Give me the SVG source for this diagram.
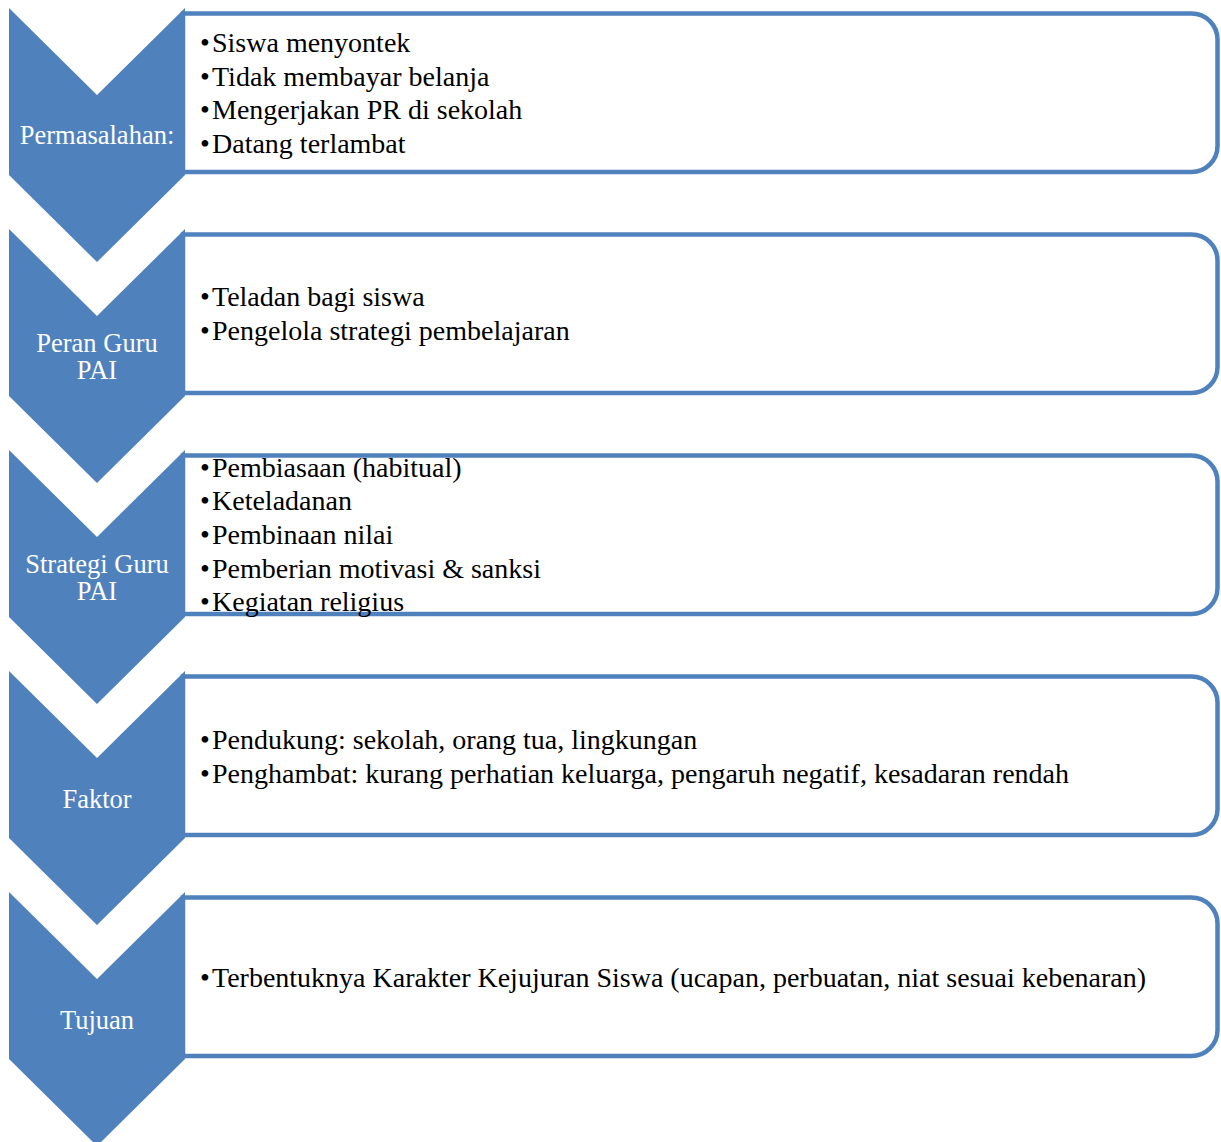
<svg xmlns="http://www.w3.org/2000/svg" width="1221" height="1142" viewBox="0 0 1221 1142">
<style>
.box{fill:#FFFFFF;stroke:#4F81BD;stroke-width:4.5}
.chev{fill:#4F81BD;stroke:none}
.lbl{font-family:"Liberation Serif","Times New Roman",serif;font-size:26.5px;fill:#FFFFFF;text-anchor:middle}
.itm{font-family:"Liberation Serif","Times New Roman",serif;font-size:28px;fill:#000000}
</style>
<rect width="1221" height="1142" fill="#FFFFFF"/>
<defs>
<path id="boxshape" d="M183,0 H1191.5 A26,26 0 0 1 1217.5,26 V132.5 A26,26 0 0 1 1191.5,158.5 H183 Z"/>
<path id="chevshape" d="M9,0 L97,87 L185,0 L185,167 L97,254 L9,167 Z"/>
</defs>
<g id="connectors"></g>
<g id="node1">
<use href="#boxshape" class="box" transform="translate(0,13.5)"/>
<use href="#chevshape" class="chev" transform="translate(0,8)"/>
<text class="lbl" x="97" y="143.5">Permasalahan:</text>
<text class="itm" x="200" y="52">•<tspan x="212">Siswa menyontek</tspan></text>
<text class="itm" x="200" y="85.5">•<tspan x="212">Tidak membayar belanja</tspan></text>
<text class="itm" x="200" y="119">•<tspan x="212">Mengerjakan PR di sekolah</tspan></text>
<text class="itm" x="200" y="153">•<tspan x="212">Datang terlambat</tspan></text>
</g>
<g id="node2">
<use href="#boxshape" class="box" transform="translate(0,234.5)"/>
<use href="#chevshape" class="chev" transform="translate(0,229)"/>
<text class="lbl" x="97" y="351.5">Peran Guru<tspan x="97" dy="27">PAI</tspan></text>
<text class="itm" x="200" y="306">•<tspan x="212">Teladan bagi siswa</tspan></text>
<text class="itm" x="200" y="340">•<tspan x="212">Pengelola strategi pembelajaran</tspan></text>
</g>
<g id="node3">
<use href="#boxshape" class="box" transform="translate(0,455.5)"/>
<use href="#chevshape" class="chev" transform="translate(0,450)"/>
<text class="lbl" x="97" y="572.5">Strategi Guru<tspan x="97" dy="27">PAI</tspan></text>
<text class="itm" x="200" y="476.5">•<tspan x="212">Pembiasaan (habitual)</tspan></text>
<text class="itm" x="200" y="510">•<tspan x="212">Keteladanan</tspan></text>
<text class="itm" x="200" y="544">•<tspan x="212">Pembinaan nilai</tspan></text>
<text class="itm" x="200" y="577.5">•<tspan x="212">Pemberian motivasi &amp; sanksi</tspan></text>
<text class="itm" x="200" y="611">•<tspan x="212">Kegiatan religius</tspan></text>
</g>
<g id="node4">
<use href="#boxshape" class="box" transform="translate(0,676.5)"/>
<use href="#chevshape" class="chev" transform="translate(0,671)"/>
<text class="lbl" x="97" y="808">Faktor</text>
<text class="itm" x="200" y="749">•<tspan x="212">Pendukung: sekolah, orang tua, lingkungan</tspan></text>
<text class="itm" x="200" y="782.5">•<tspan x="212">Penghambat: kurang perhatian keluarga, pengaruh negatif, kesadaran rendah</tspan></text>
</g>
<g id="node5">
<use href="#boxshape" class="box" transform="translate(0,897.5)"/>
<use href="#chevshape" class="chev" transform="translate(0,892)"/>
<text class="lbl" x="97" y="1029">Tujuan</text>
<text class="itm" x="200" y="987">•<tspan x="212">Terbentuknya Karakter Kejujuran Siswa (ucapan, perbuatan, niat sesuai kebenaran)</tspan></text>
</g>
</svg>
